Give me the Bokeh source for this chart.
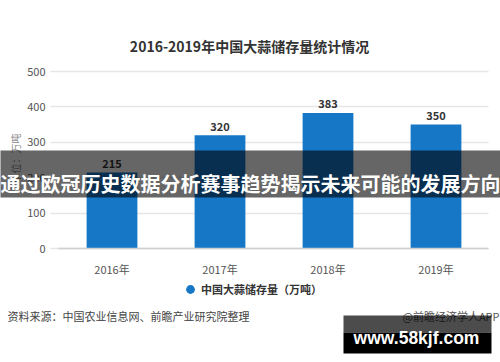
import math
from bokeh.plotting import figure
from bokeh.models import (Range1d, FixedTicker, LabelSet, ColumnDataSource, Label,
                          BoxAnnotation, Legend, LegendItem, LinearAxis)
from bokeh.core.properties import value
from bokeh.embed import file_html
from bokeh.resources import INLINE

# ---- data ----
years = ["2016年", "2017年", "2018年", "2019年"]
values = [215, 320, 383, 350]
y_ticks = [0, 100, 200, 300, 400, 500]
title_text = "2016-2019年中国大蒜储存量统计情况"
series_name = "中国大蒜储存量（万吨）"
y_unit = "单位：万吨"
source_text = "资料来源：中国农业信息网、前瞻产业研究院整理"
credit_text = "@前瞻经济学人APP"
banner_text = "通过欧冠历史数据分析赛事趋势揭示未来可能的发展方向"
site_text = "www.58kjf.com"

FONT = "Noto Sans CJK SC"
BAR = "#1677c6"

W, H = 500, 362
# plot area (pixels): bars centred every 108 px starting at 111.5; y=0 at 248, 500 at 71
PL, PR, PT, PB = 50, 488, 71, 248
C0, STEP = 111.5, 108.0
X0, X1 = -C0 / STEP, (W - C0) / STEP
PPU = (PB - PT) / 500.0
Y0, Y1 = -(H - PB) / PPU, 500 + PT / PPU

def xd(px):
    return X0 + px / STEP

def yd(py):
    return (PB - py) / PPU

idx = list(range(len(years)))
src = ColumnDataSource(dict(x=idx, top=values, lab=[str(v) for v in values]))

p = figure(width=W, height=H, output_backend="svg", toolbar_location=None,
           x_range=Range1d(X0, X1), y_range=Range1d(Y0, Y1),
           x_axis_type=None, y_axis_type=None,
           min_border_left=0, min_border_right=0, min_border_top=0, min_border_bottom=0)
p.outline_line_color = None
p.background_fill_color = "white"
p.border_fill_color = "white"
p.xgrid.visible = False
p.ygrid.visible = False

# y axis: fixed at the left edge of the plot area; long inward ticks act as grid lines
yax = LinearAxis(fixed_location=xd(PL), ticker=FixedTicker(ticks=y_ticks),
                 axis_line_color=None, major_tick_out=0, major_tick_in=PR - PL,
                 major_tick_line_color="#e6e6e6", major_tick_line_width=1.5,
                 minor_tick_line_color=None,
                 major_label_text_font=FONT, major_label_text_font_size="11px",
                 major_label_text_color="#555555", major_label_standoff=5,
                 level="underlay")
p.add_layout(yax, "left")

# x axis at y = 0
xax = LinearAxis(fixed_location=0, ticker=FixedTicker(ticks=idx),
                 major_label_overrides={i: y for i, y in zip(idx, years)},
                 bounds=(xd(58), xd(PR)),
                 axis_line_color="#cfcfcf", axis_line_width=1.5,
                 major_tick_line_color=None, minor_tick_line_color=None,
                 major_label_text_font=FONT, major_label_text_font_size="11px",
                 major_label_text_color="#555555", major_label_standoff=6)
p.add_layout(xax, "below")

bars = p.vbar(x="x", top="top", width=0.47, source=src, color=BAR, line_color=None)

p.add_layout(LabelSet(x="x", y="top", text="lab", source=src, y_offset=9,
                      text_align="center", text_baseline="middle",
                      text_font=value(FONT), text_font_size="11px",
                      text_font_style="bold", text_color="#333333"))

# title
p.add_layout(Label(x=xd(249), y=yd(45), text=title_text, text_align="center",
                   text_baseline="middle", text_font=FONT, text_font_size="14px",
                   text_font_style="bold", text_color="#333333"))

# y unit label
p.add_layout(Label(x=xd(15), y=yd(158), text=y_unit, angle=math.pi / 2,
                   text_align="center", text_baseline="middle", text_font=FONT,
                   text_font_size="10px", text_color="#8a8a8a"))

# legend: zero-size circle markers for the same series, so only the legend shows the dot
marker = p.scatter(x="x", y="top", source=src, marker="circle", size=0,
                   fill_color=BAR, line_color=None)
leg = Legend(items=[LegendItem(label=series_name, renderers=[marker])],
             location=(179, H - 300), orientation="horizontal",
             glyph_width=22, glyph_height=22, label_standoff=0,
             padding=0, margin=0, border_line_color=None,
             background_fill_alpha=0, label_text_font=FONT,
             label_text_font_size="11px", label_text_font_style="bold",
             label_text_color="#333333")
p.add_layout(leg, "center")

# footer
p.add_layout(Label(x=xd(7), y=yd(315), text=source_text, text_align="left",
                   text_baseline="middle", text_font=FONT, text_font_size="11px",
                   text_color="#444444"))
p.add_layout(Label(x=xd(499), y=yd(315), text=credit_text, text_align="right",
                   text_baseline="middle", text_font=FONT, text_font_size="11px",
                   text_color="#555555"))

# overlay banner
p.add_layout(BoxAnnotation(left=xd(-20), right=xd(520), top=yd(150), bottom=yd(197),
                           fill_color="black", fill_alpha=0.6, line_color=None))
p.add_layout(Label(x=xd(250), y=yd(183), text=banner_text, text_align="center",
                   text_baseline="middle", text_font=FONT, text_font_size="20px",
                   text_font_style="bold", text_color="white"))

# site box
p.add_layout(BoxAnnotation(left=xd(343), right=xd(491), top=yd(315), bottom=yd(332),
                           fill_color="black", fill_alpha=0.7, line_color=None))
p.add_layout(BoxAnnotation(left=xd(343), right=xd(491), top=yd(332), bottom=yd(353),
                           fill_color="black", fill_alpha=1.0, line_color=None))
p.add_layout(Label(x=xd(416), y=yd(337), text=site_text, text_align="center",
                   text_baseline="middle", text_font="Liberation Sans",
                   text_font_size="17.5px", text_font_style="bold", text_color="white"))

open("out.html", "w").write(file_html(p, INLINE))
